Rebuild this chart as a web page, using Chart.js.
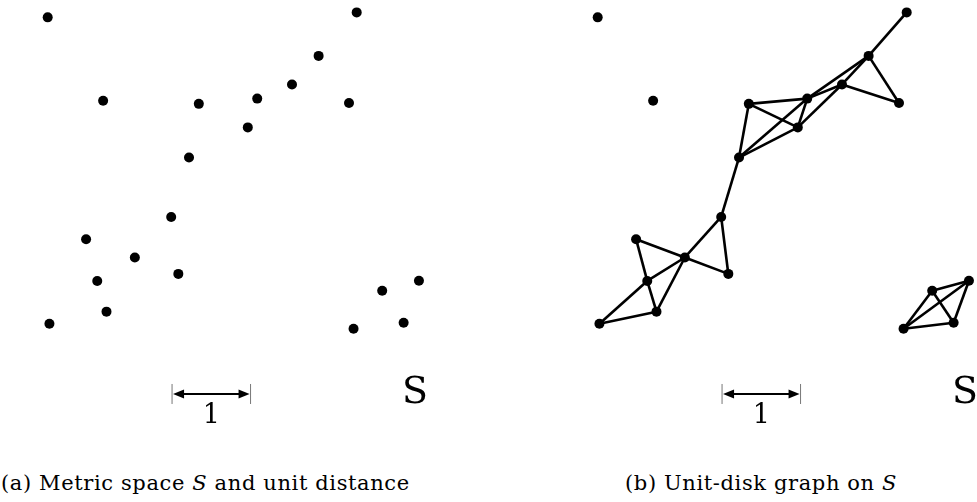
<!DOCTYPE html>
<html>
<head>
<meta charset="utf-8">
<script src="https://cdn.jsdelivr.net/npm/chart.js@4.4.1/dist/chart.umd.min.js"></script>
<style>
  html, body { margin: 0; padding: 0; background: #fff; overflow: hidden; width: 977px; height: 502px; }
  canvas { position: absolute; top: 0; }
  #metricChart { left: 0; }
  #graphChart { left: 550px; }
  .caption {
    position: absolute; top: 472px; line-height: 22px; white-space: nowrap;
    font-family: "DejaVu Serif", "Liberation Serif", serif; font-size: 21px;
    letter-spacing: 0.62px; color: #000;
  }
</style>
</head>
<body>
<canvas id="metricChart" width="460" height="440"></canvas>
<canvas id="graphChart" width="460" height="440"></canvas>
<div class="caption" style="left:1px">(a) Metric space <i>S</i> and unit distance</div>
<div class="caption" style="left:625px">(b) Unit-disk graph on <i>S</i></div>

<script>
// points of S, in unit distances (y up)
const pointX = [0.098, 4.034, 3.549, 3.210, 2.767, 2.023, 0.804, 3.936, 2.647, 1.898, 1.671,
                0.587, 1.208, 1.762, 0.729, 0.847, 0.120, 4.359, 4.827, 4.632, 3.994];
const pointY = [4.110, 4.173, 3.619, 3.255, 3.075, 3.008, 3.047, 3.019, 2.708, 2.324, 1.567,
                1.284, 1.051, 0.842, 0.752, 0.361, 0.206, 0.628, 0.755, 0.220, 0.143];

// edges of the unit-disk graph (indices into the point arrays)
const edgeFrom = [1, 2, 2, 2, 3, 3, 3, 5, 5, 5, 9, 9, 4, 9, 10, 10, 12, 11, 11, 12, 12, 14, 14, 15, 17, 17, 17, 18, 18, 20];
const edgeTo   = [2, 7, 3, 4, 4, 8, 7, 4, 8, 9, 4, 8, 8, 10, 12, 13, 13, 12, 14, 14, 15, 15, 16, 16, 18, 20, 19, 20, 19, 19];

// scale bar: one unit, and the label of the set
const unitStart = 1.682;
const unitLabel = '1';
const setLabel = 'S';

const xMin = -0.5096, xMax = 5.350;
const yMin = -1.274, yMax = 4.331;

const serif = '"DejaVu Serif", "Liberation Serif", serif';

const points = pointX.map((x, i) => ({ x: x, y: pointY[i] }));

const annotations = {
    id: 'annotations',
    afterDraw(chart) {
        const ctx = chart.ctx;
        const xs = chart.scales.x, ys = chart.scales.y;
        const x0 = xs.getPixelForValue(unitStart);
        const x1 = xs.getPixelForValue(unitStart + 1);
        const yBar = ys.getPixelForValue(-0.688);

        ctx.save();
        // end ticks
        ctx.strokeStyle = '#777';
        ctx.lineWidth = 1;
        ctx.beginPath();
        ctx.moveTo(x0, yBar - 10); ctx.lineTo(x0, yBar + 10);
        ctx.moveTo(x1, yBar - 10); ctx.lineTo(x1, yBar + 10);
        ctx.stroke();
        // shaft
        ctx.strokeStyle = '#000';
        ctx.lineWidth = 2.2;
        ctx.beginPath();
        ctx.moveTo(x0 + 6, yBar); ctx.lineTo(x1 - 6, yBar);
        ctx.stroke();
        // heads
        ctx.fillStyle = '#000';
        ctx.beginPath();
        ctx.moveTo(x0 + 1, yBar); ctx.lineTo(x0 + 12, yBar - 4.5); ctx.lineTo(x0 + 12, yBar + 4.5);
        ctx.closePath(); ctx.fill();
        ctx.beginPath();
        ctx.moveTo(x1 - 1, yBar); ctx.lineTo(x1 - 12, yBar - 4.5); ctx.lineTo(x1 - 12, yBar + 4.5);
        ctx.closePath(); ctx.fill();

        ctx.textAlign = 'center';
        ctx.textBaseline = 'alphabetic';
        ctx.font = '27px ' + serif;
        ctx.fillText(unitLabel, (x0 + x1) / 2, ys.getPixelForValue(-1.057));
        ctx.font = '38px ' + serif;
        ctx.fillText(setLabel, xs.getPixelForValue(4.777), ys.getPixelForValue(-0.803));
        ctx.restore();
    }
};

function makeOptions() {
    return {
        responsive: false,
        animation: false,
        layout: { padding: 0, autoPadding: false },
        plugins: { legend: { display: false }, tooltip: { enabled: false } },
        scales: {
            x: { type: 'linear', display: false, min: xMin, max: xMax },
            y: { type: 'linear', display: false, min: yMin, max: yMax }
        }
    };
}

const pointSet = {
    data: points,
    pointRadius: 5,
    pointBackgroundColor: '#000',
    pointBorderWidth: 0,
    clip: false,
    order: 0
};

new Chart(document.getElementById('metricChart'), {
    type: 'scatter',
    data: { datasets: [pointSet] },
    options: makeOptions(),
    plugins: [annotations]
});

let graphSets = [pointSet];
for (let i = 0; i < edgeFrom.length; i++) {
    graphSets.push({
        data: [points[edgeFrom[i]], points[edgeTo[i]]],
        showLine: true,
        borderColor: '#000',
        borderWidth: 2.6,
        pointRadius: 0,
        clip: false,
        order: 1
    });
}

new Chart(document.getElementById('graphChart'), {
    type: 'scatter',
    data: { datasets: graphSets },
    options: makeOptions(),
    plugins: [annotations]
});
</script>
</body>
</html>
